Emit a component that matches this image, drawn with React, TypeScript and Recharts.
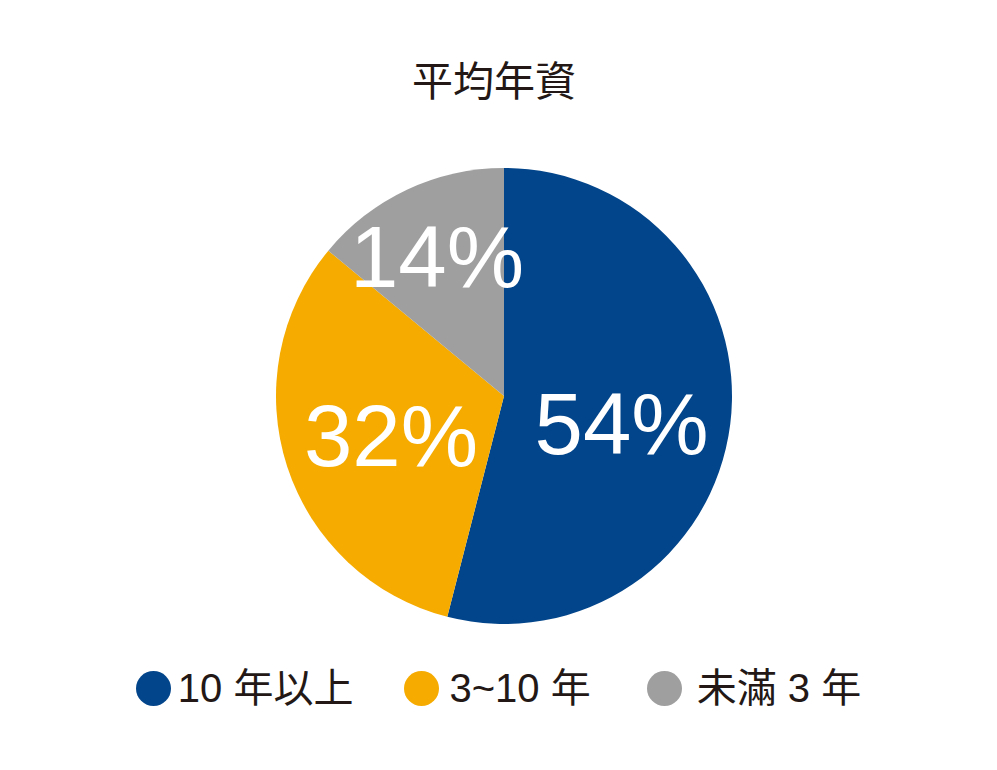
import { PieChart, Pie, Cell, Legend } from "recharts";

const categories = ["10 年以上", "3~10 年", "未滿 3 年"];
const shares = [54, 32, 14];
const title = "平均年資";

const COLORS = ["#03458A", "#F5AB00", "#9F9F9F"];
// label placement per slice: fraction of the radius and a small angle nudge
const LABEL_RADIUS = [0.53, 0.525, 0.677];
const LABEL_NUDGE = [-6, 1.3, 0.5];

const FONT = "'Liberation Sans', 'Noto Sans CJK TC', sans-serif";
const RADIAN = Math.PI / 180;

const data = categories.map((name, i) => ({ name, value: shares[i] }));

const renderLabel = ({ cx, cy, midAngle, outerRadius, index, value }: any) => {
  const angle = midAngle + LABEL_NUDGE[index];
  const r = outerRadius * LABEL_RADIUS[index];
  const x = cx + r * Math.cos(-angle * RADIAN);
  const y = cy + r * Math.sin(-angle * RADIAN);
  return (
    <text
      x={x}
      y={y}
      fill="#fff"
      textAnchor="middle"
      dominantBaseline="central"
      style={{ fontFamily: FONT, fontSize: 87 }}
    >
      {value}%
    </text>
  );
};

const renderLegend = ({ payload }: any) => (
  <div
    style={{
      display: "flex",
      justifyContent: "center",
      fontFamily: FONT,
      fontSize: 40,
      color: "#231815",
      lineHeight: "40px",
    }}
  >
    {(payload || []).map((item: any, i: number) => (
      <div
        key={i}
        style={{ display: "flex", alignItems: "center", marginLeft: i === 0 ? 0 : i === 1 ? 51 : 56 }}
      >
        <svg width={35} height={35} style={{ marginRight: i === 2 ? 15 : i === 1 ? 10 : 7 }}>
          <circle cx={17.5} cy={17.5} r={17.5} fill={item.color} />
        </svg>
        <span>{item.value}</span>
      </div>
    ))}
  </div>
);

export default function App() {
  return (
    <div
      style={{
        position: "absolute",
        left: 0,
        top: 0,
        width: 997,
        height: 770,
        background: "#fff",
      }}
    >
      <div
        style={{
          position: "absolute",
          top: 60,
          left: 0,
          width: 988,
          textAlign: "center",
          fontFamily: FONT,
          fontSize: 41,
          lineHeight: "44px",
          color: "#231815",
        }}
      >
        {title}
      </div>
      <PieChart width={997} height={770} margin={{ top: 0, right: 0, bottom: 0, left: 0 }}>
        <Pie
          data={data}
          dataKey="value"
          nameKey="name"
          cx={504}
          cy={396}
          outerRadius={228}
          startAngle={90}
          endAngle={-270}
          stroke="none"
          label={renderLabel}
          labelLine={false}
          isAnimationActive={false}
        >
          {data.map((_, i) => (
            <Cell key={i} fill={COLORS[i]} />
          ))}
        </Pie>
        <Legend
          content={renderLegend}
          wrapperStyle={{ top: 668, left: 0, width: 997 }}
        />
      </PieChart>
    </div>
  );
}
